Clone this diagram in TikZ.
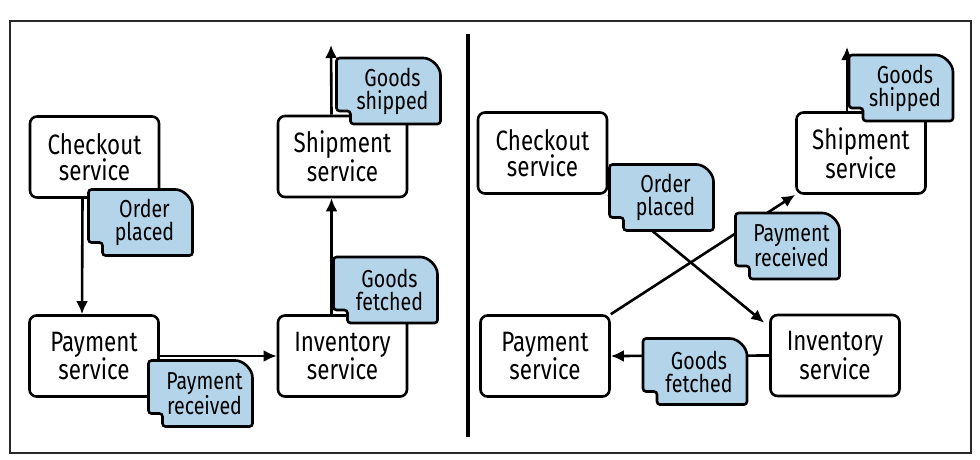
\documentclass[tikz,border=0pt]{standalone}
\usepackage{fontspec}
\setmainfont{Fira Sans}[FakeStretch=0.8]
\usetikzlibrary{arrows.meta}
\definecolor{eventblue}{RGB}{180,212,234}
\definecolor{framegray}{RGB}{40,40,40}
\tikzset{
	service/.style={draw, fill=white, line width=2.6pt, rounded corners=7pt, minimum width=129pt, minimum height=81pt, inner sep=0pt, align=center, font=\fontsize{28}{26}\selectfont},
	eventshape/.style={draw, fill=eventblue, line width=2.6pt, rounded corners=3pt},
	eventtext/.style={inner sep=0pt, align=center, font=\fontsize{24.5}{23}\selectfont},
	flow/.style={line width=2.6pt, -{Latex[length=13pt,width=12pt]}},
}
\newcommand{\eventnote}[3]{
	\begin{scope}[shift={(#2)}]
		\filldraw[eventshape] (-52,20) -- (-52,-33) -- (32,-33) .. controls (43,-33) and (52,-24) .. (52,-13) -- (52,33) -- (-38,33) -- (-38,20) -- cycle;
	\end{scope}
	\node[eventtext, xshift=4pt] (#1) at (#2) {#3};
}
\begin{document}
\begin{tikzpicture}[x=1pt, y=-1pt]
	\useasboundingbox (0,0) rectangle (980,459);
	\draw[framegray, line width=1.4pt] (10,21) rectangle (971,453);
	\draw[line width=4.5pt] (468,34) -- (468,437);

	\node[service] (chkL) at (94.5,157) {Checkout\\service};
	\node[service] (payL) at (94,356) {Payment\\service};
	\node[service] (invL) at (342.5,356) {Inventory\\service};
	\node[service] (shpL) at (342.5,156.5) {Shipment\\service};
	\coordinate (outL) at (331,45);

	\draw[flow] ([xshift=-12pt]chkL.south) -- ([xshift=-12pt]payL.north);
	\draw[flow] (payL.east) -- (invL.west);
	\draw[flow] ([xshift=-11pt]invL.north) -- ([xshift=-11pt]shpL.south);
	\draw[flow] ([xshift=-11pt]shpL.north) -- (outL);

	\eventnote{ordL}{140.5,222.5}{Order\\placed}
	\eventnote{prcL}{200.5,393.5}{Payment\\received}
	\eventnote{gftL}{385.5,290}{Goods\\fetched}
	\eventnote{gshL}{388.5,91}{Goods\\shipped}

	\node[service] (chkR) at (542.5,153) {Checkout\\service};
	\node[service] (shpR) at (861,153) {Shipment\\service};
	\node[service] (payR) at (545,356) {Payment\\service};
	\node[service] (invR) at (835,355.5) {Inventory\\service};
	\coordinate (outR) at (847,47);

	\draw[flow] (chkR.south east) -- ([shift={(-5pt,-9pt)}]invR.north west);
	\draw[flow] (payR.north east) -- (shpR.south west);
	\draw[flow] (invR.west) -- (payR.east);
	\draw[flow] ([xshift=-14pt]shpR.north) -- (outR);

	\eventnote{ordR}{661.5,197.5}{Order\\placed}
	\eventnote{prcR}{787.5,246}{Payment\\received}
	\eventnote{gftR}{695,371.5}{Goods\\fetched}
	\eventnote{gshR}{901,88}{Goods\\shipped}
\end{tikzpicture}
\end{document}
